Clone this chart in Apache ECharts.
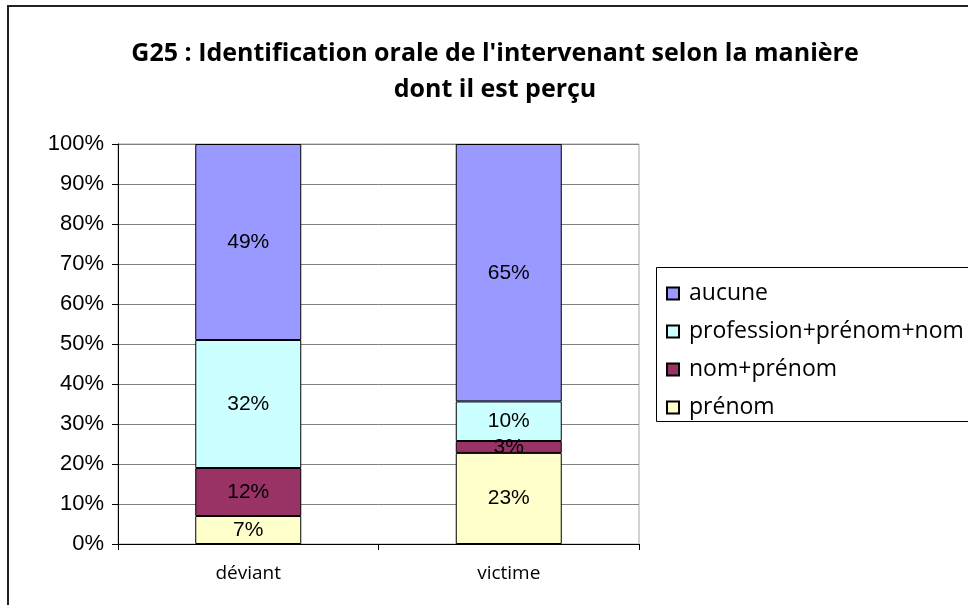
<!DOCTYPE html>
<html>
<head>
<meta charset="utf-8">
<script src="https://cdn.jsdelivr.net/npm/echarts@6/dist/echarts.min.js"></script>
<style>
  html, body { margin: 0; padding: 0; background: #fff; }
  #chart { width: 968px; height: 605px; }
</style>
</head>
<body>
<div id="chart"></div>
<script>
// values as printed on the bars (%)
var categories = ['déviant', 'victime']
var prenom = [7, 23]
var nomPrenom = [12, 3]
var profession = [32, 10]
var aucune = [49, 65]
var yTicks = ['0%', '10%', '20%', '30%', '40%', '50%', '60%', '70%', '80%', '90%', '100%']

var seriesNames = ['prénom', 'nom+prénom', 'profession+prénom+nom', 'aucune']
var seriesData = [prenom, nomPrenom, profession, aucune]
var colors = ['#FFFFCC', '#993366', '#CCFFFF', '#9999FF']

// bars are stacked to 100% of each column
var totals = categories.map(function (c, i) {
  return seriesData.reduce(function (s, arr) { return s + arr[i] }, 0)
})

var chart = echarts.init(document.getElementById('chart'))

var grop = seriesData.map(function (arr, k) {
  return {
    name: seriesNames[k],
    type: 'bar',
    stack: 'total',
    barWidth: 106,
    data: arr.map(function (v, i) { return { value: v / totals[i] * 100, raw: v } }),
    itemStyle: { color: colors[k], borderColor: '#000', borderWidth: 1 },
    label: {
      show: true,
      position: 'inside',
      fontFamily: 'Liberation Sans',
      fontSize: 21,
      color: '#000',
      formatter: function (p) { return p.data.raw + '%' }
    }
  }
})

var option = {
  animation: false,
  title: {
    text: "G25 : Identification orale de l'intervenant selon la manière\ndont il est perçu",
    left: 490,
    top: 31,
    textAlign: 'center',
    textStyle: {
      fontFamily: 'Open Sans',
      fontWeight: 'bold',
      fontSize: 25,
      lineHeight: 36,
      color: '#000'
    }
  },
  legend: {
    orient: 'vertical',
    left: 661,
    top: 277,
    itemGap: 15,
    itemWidth: 12,
    itemHeight: 12,
    icon: 'rect',
    data: ['aucune', 'profession+prénom+nom', 'nom+prénom', 'prénom'],
    textStyle: {
      fontFamily: 'Open Sans',
      fontSize: 23,
      color: '#000',
      padding: [0, 0, 0, 5]
    }
  },
  graphic: [
    {
      type: 'rect',
      shape: { x: 8, y: 6, width: 1000, height: 700 },
      style: { fill: null, stroke: '#222', lineWidth: 2 },
      silent: true
    },
    {
      type: 'rect',
      shape: { x: 656.5, y: 267.5, width: 400, height: 154 },
      style: { fill: null, stroke: '#000', lineWidth: 1 },
      silent: true
    }
  ],
  grid: {
    left: 118,
    right: 329,
    top: 144,
    bottom: 61,
    show: true,
    borderColor: '#a6a6a6',
    borderWidth: 1
  },
  xAxis: {
    type: 'category',
    data: categories,
    axisLine: { lineStyle: { color: '#000' } },
    axisTick: { show: true, length: 6, lineStyle: { color: '#000' } },
    axisLabel: { margin: 20, fontFamily: 'Open Sans', fontSize: 19, color: '#000' }
  },
  yAxis: {
    type: 'value',
    min: 0,
    max: 100,
    interval: 10,
    axisLine: { show: true, lineStyle: { color: '#000' } },
    axisTick: { show: true, length: 6, lineStyle: { color: '#000' } },
    splitLine: { lineStyle: { color: '#808080' } },
    axisLabel: {
      margin: 14,
      fontFamily: 'Liberation Sans',
      fontSize: 22,
      color: '#000',
      formatter: function (v) { return yTicks[Math.round(v / 10)] }
    }
  },
  series: grop
}

option && chart.setOption(option)
</script>
</body>
</html>
